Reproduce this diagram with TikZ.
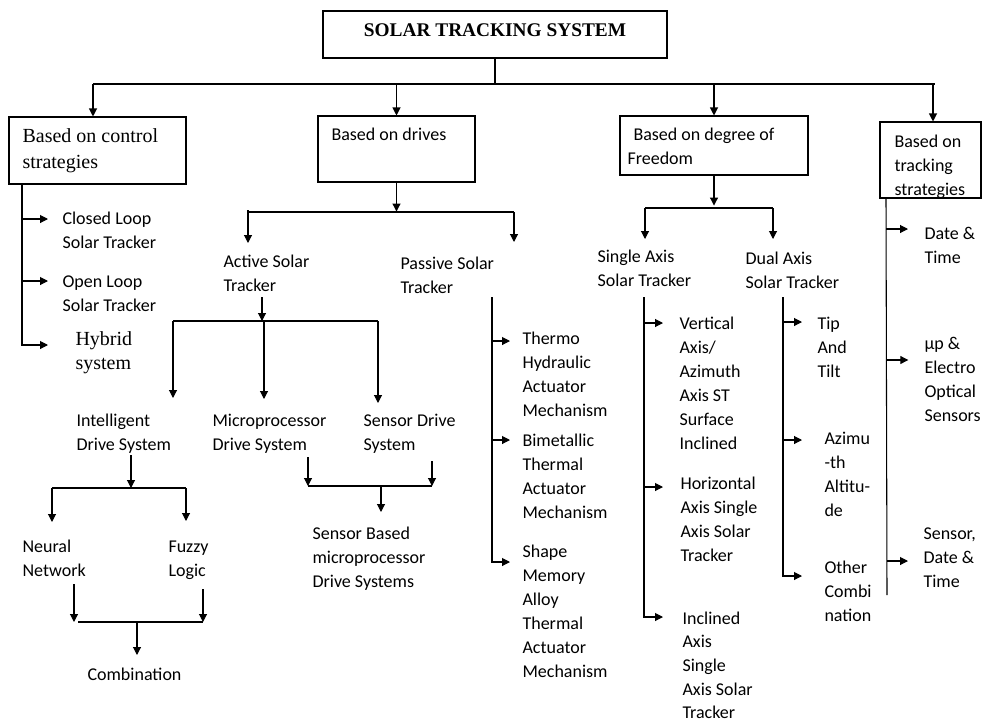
\documentclass[tikz,border=0pt]{standalone}
\usepackage{fontspec}
\setmainfont{Carlito}
\newfontfamily\serifteks{Liberation Serif}
\usetikzlibrary{arrows.meta, positioning}

\begin{document}
\begin{tikzpicture}[
		x=0.75pt, y=-0.75pt,
		line width=0.8pt,
		kotak/.style={draw, rectangle, inner sep=0pt, line width=0.8pt},
		teks/.style={anchor=north west, inner sep=0pt, align=left, yshift=8.1pt, font=\fontsize{13.5}{18}\selectfont},
		teksserif/.style={anchor=north west, inner sep=0pt, align=left, yshift=8.7pt, font=\serifteks\fontsize{15}{19.5}\selectfont},
		panah/.style={-{Triangle[width=6pt, length=6pt]}, line width=0.8pt}
	]
	\useasboundingbox (0,0) rectangle (982,722);

	% Judul dan kotak kategori
	\node[kotak, minimum width=258pt, minimum height=35.25pt, text depth=6pt, font=\serifteks\bfseries\fontsize{14.5}{17}\selectfont] (judul) at (495,34.5) {SOLAR TRACKING SYSTEM};
	\node[kotak, minimum width=132.75pt, minimum height=50.25pt] (kendali) at (97.5,150.5) {};
	\node[kotak, minimum width=117.75pt, minimum height=49.5pt] (penggerak) at (396.5,149) {};
	\node[kotak, minimum width=141pt, minimum height=44.25pt] (derajat) at (714,145.5) {};
	\node[kotak, minimum width=75.75pt, minimum height=57pt] (strategi) at (930.5,160) {};
	\node[teksserif] (tKendali) at (22,135) {\strut Based on control\\strategies};
	\node[teks] (tPenggerak) at (331,134) {\strut Based on drives};
	\node[teks] (tDerajat) at (627,134) {\strut\hspace{4.5pt}Based on degree of\\Freedom};
	\node[teks] (tStrategi) at (894,141) {\strut Based on\\tracking\\strategies};

	% Garis utama
	\coordinate (busL) at (93,84);
	\coordinate (busR) at (935,84);
	\draw (judul.south) -- (judul.south |- busL);
	\draw (busL) -- (busR);
	\draw[panah] (busL) -- (busL |- kendali.north);
	\draw[panah] (penggerak.north |- busL) -- (penggerak.north);
	\draw[panah] (derajat.north |- busL) -- (derajat.north);
	\draw[panah] ([xshift=-1.5pt]busR) -- ([xshift=-1.5pt]busR |- strategi.north);

	% Cabang kendali
	\coordinate (k0) at (22,184);
	\draw[panah] (k0) |- ++(26,161);
	\draw[panah] (k0) ++(0,35) -- ++(26,0);
	\draw[panah] (k0) ++(0,97) -- ++(26,0);
	\node[teks] (closed) at (62,218) {\strut Closed Loop\\Solar Tracker};
	\node[teks] (open) at (62,281) {\strut Open Loop\\Solar Tracker};
	\node[teksserif, font=\serifteks\fontsize{15}{18}\selectfont] (hybrid) at (75,340) {\strut Hybrid\\system};

	% Cabang penggerak
	\coordinate (pL) at (248,212);
	\coordinate (pR) at (514,212);
	\draw[panah] (penggerak.south) -- ++(0,29);
	\draw (pL) -- (pR);
	\draw[panah] (pL) ++(0,-2) -- ++(0,33);
	\draw[panah] (pR) -- ++(0,30);
	\node[teks] (aktif) at (223,261) {\strut Active Solar\\Tracker};
	\node[teks] (pasif) at (400,263) {\strut Passive Solar\\Tracker};

	% Aktif
	\coordinate (a0) at (262,297);
	\coordinate (aL) at (173,321);
	\coordinate (aM) at (264,321);
	\coordinate (aR) at (378,321);
	\draw[panah] (a0) -- (a0 |- aL);
	\draw (aL) -- (aR);
	\draw[panah] (aL) -- ++(0,77);
	\draw[panah] (aM) -- ++(0,78);
	\draw[panah] (aR) -- ++(0,82);
	\node[teks] (intel) at (76,420) {\strut Intelligent\\Drive System};
	\node[teks] (mikro) at (212,420) {\strut Microprocessor\\Drive System};
	\node[teks] (sensor) at (363,420) {\strut Sensor Drive\\System};

	% Intelligent
	\coordinate (i0) at (131,455);
	\coordinate (iL) at (52,488);
	\coordinate (iR) at (186,488);
	\draw[panah] (i0) -- (i0 |- iL);
	\draw (iL) -- (iR);
	\draw[panah] (iL) -- ++(0,34);
	\draw[panah] (iR) -- ++(0,33);
	\node[teks] (neural) at (22,546) {\strut Neural\\Network};
	\node[teks] (fuzzy) at (168,546) {\strut Fuzzy\\Logic};
	\coordinate (n0) at (74,584);
	\coordinate (f0) at (203,589);
	\coordinate (cL) at (78,622);
	\coordinate (cR) at (203,622);
	\draw[panah] (n0) -- (n0 |- cL);
	\draw[panah] (f0) -- (cR);
	\draw (cL) -- (cR);
	\draw[panah] (cL) ++(59,0) -- ++(0,33);
	\node[teks] (kombinasi) at (87,674) {\strut Combination};

	% Mikroprosesor dan sensor
	\coordinate (m0) at (308,457);
	\coordinate (s0) at (432,461);
	\coordinate (msL) at (308,486);
	\coordinate (msR) at (432,486);
	\draw[panah] (m0) -- (msL);
	\draw[panah] (s0) -- (msR);
	\draw (msL) -- (msR);
	\draw[panah] (msL) ++(73,0) -- ++(0,26);
	\node[teks] (sbm) at (312,533) {\strut Sensor Based\\microprocessor\\Drive Systems};

	% Pasif
	\coordinate (ps0) at (492,297);
	\draw[panah] (ps0) |- ++(18,265);
	\draw[panah] (ps0) ++(0,44) -- ++(18,0);
	\draw[panah] (ps0) ++(0,143) -- ++(18,0);
	\node[teks] (thermo) at (522,338) {\strut Thermo\\Hydraulic\\Actuator\\Mechanism};
	\node[teks] (bimetal) at (522,440) {\strut Bimetallic\\Thermal\\Actuator\\Mechanism};
	\node[teks] (shape) at (522,551) {\strut Shape\\Memory\\Alloy\\Thermal\\Actuator\\Mechanism};

	% Derajat kebebasan
	\coordinate (dL) at (645,208);
	\coordinate (dR) at (773,208);
	\draw[panah] (derajat.south) -- ++(0,30);
	\draw (dL) -- (dR);
	\draw[panah] (dL) -- ++(0,31);
	\draw[panah] (dR) -- ++(0,31);
	\node[teks] (single) at (597,256) {\strut Single Axis\\Solar Tracker};
	\node[teks] (dual) at (745,258) {\strut Dual Axis\\Solar Tracker};

	% Single axis
	\coordinate (sa0) at (644,297);
	\draw[panah] (sa0) |- ++(19,320);
	\draw[panah] (sa0) ++(0,26) -- ++(19,0);
	\draw[panah] (sa0) ++(0,190) -- ++(19,0);
	\node[teks] (vertikal) at (679,323) {\strut Vertical\\Axis/\\Azimuth\\Axis ST\\Surface\\Inclined};
	\node[teks] (horizontal) at (680,483) {\strut Horizontal\\Axis Single\\Axis Solar\\Tracker};
	\node[teks, font=\fontsize{13.5}{17.7}\selectfont] (miring) at (682,618) {\strut Inclined\\Axis\\Single\\Axis Solar\\Tracker};

	% Dual axis
	\coordinate (da0) at (783,297);
	\draw[panah] (da0) |- ++(19,279);
	\draw[panah] (da0) ++(0,25) -- ++(19,0);
	\draw[panah] (da0) ++(0,143) -- ++(19,0);
	\node[teks] (tip) at (817,323) {\strut Tip\\And\\Tilt};
	\node[teks] (azimut) at (824,438) {\strut Azimu\\-th\\Altitu-\\de};
	\node[teks] (lain) at (824,567) {\strut Other\\Combi\\nation};

	% Strategi pelacakan
	\coordinate (t0) at (886,198);
	\draw (t0) -- ++(1,397);
	\draw[panah] (t0) ++(0,31) -- ++(22,0);
	\draw[panah] (t0) ++(0.3,162) -- ++(22,0);
	\draw[panah] (t0) ++(1,363) -- ++(21,0);
	\node[teks] (tanggal) at (924,233) {\strut Date \&\\Time};
	\node[teks] (optik) at (924,343) {\strut µp \&\\Electro\\Optical\\Sensors};
	\node[teks] (sdt) at (923,533) {\strut Sensor,\\Date \&\\Time};
\end{tikzpicture}
\end{document}
